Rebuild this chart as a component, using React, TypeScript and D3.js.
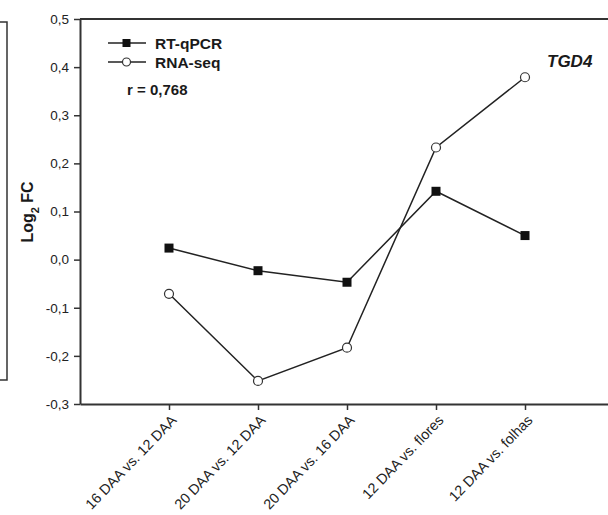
import React, { useRef, useEffect } from "react";
import * as d3 from "d3";

const categories = [
  "16 DAA vs. 12 DAA",
  "20 DAA vs. 12 DAA",
  "20 DAA vs. 16 DAA",
  "12 DAA vs. flores",
  "12 DAA vs. folhas",
];
const rtqpcr = [0.024, -0.023, -0.047, 0.142, 0.05];
const rnaseq = [-0.071, -0.252, -0.183, 0.233, 0.379];
const yTicks = [-0.3, -0.2, -0.1, 0.0, 0.1, 0.2, 0.3, 0.4, 0.5];

const App = () => {
  const svgRef = useRef<SVGSVGElement>(null);

  useEffect(() => {
    const svg = d3.select(svgRef.current);
    svg.selectAll("*").remove();
    const font = "'Liberation Sans', Arial, sans-serif";
    const ink = "#1a1a1a";

    const x = d3.scaleLinear().domain([0, categories.length + 1]).range([80, 614]);
    const y = d3.scaleLinear().domain([-0.3, 0.5]).range([404, 19]);
    const fmt = (v: number) => d3.format(".1f")(v).replace(".", ",").replace("−", "-");

    // partial frame of neighbouring panel
    svg.append("path")
      .attr("d", "M0,22 H7 V380 H0")
      .attr("fill", "none")
      .attr("stroke", "#333")
      .attr("stroke-width", 1.5);

    // top frame line
    svg.append("line")
      .attr("x1", 80).attr("x2", 610)
      .attr("y1", y(0.5)).attr("y2", y(0.5))
      .attr("stroke", "#333").attr("stroke-width", 2);

    // y axis
    const yAxis = svg.append("g")
      .attr("transform", "translate(80,0)")
      .call(d3.axisLeft(y).tickValues(yTicks).tickFormat((d) => fmt(+d)).tickSize(6).tickSizeOuter(0));
    yAxis.select(".domain").attr("stroke", "#333").attr("stroke-width", 2);
    yAxis.selectAll(".tick line").attr("stroke", "#333").attr("stroke-width", 1.5);
    yAxis.selectAll(".tick text")
      .attr("font-family", font).attr("font-size", 13.5).attr("fill", "#222").attr("x", -11);

    // x axis
    const xAxis = svg.append("g")
      .attr("transform", `translate(0,${y(-0.3)})`)
      .call(
        d3.axisBottom(x)
          .tickValues(categories.map((_, i) => i + 1))
          .tickFormat((d) => categories[+d - 1])
          .tickSize(6)
          .tickSizeOuter(0)
      );
    xAxis.select(".domain").attr("stroke", "#333").attr("stroke-width", 2);
    xAxis.selectAll(".tick line").attr("stroke", "#333").attr("stroke-width", 1.5);
    xAxis.selectAll(".tick text")
      .attr("font-family", font).attr("font-size", 14.3).attr("fill", "#222")
      .attr("text-anchor", "end")
      .attr("dy", 0)
      .attr("transform", "translate(8,17) rotate(-46)")
      .attr("x", 0).attr("y", 0);

    // y label
    const yl = svg.append("text")
      .attr("transform", "translate(33,212) rotate(-90)")
      .attr("text-anchor", "middle")
      .attr("font-family", font).attr("font-weight", "bold").attr("font-size", 16).attr("fill", ink);
    yl.append("tspan").text("Log");
    yl.append("tspan").attr("font-size", 11).attr("dy", 6).text("2");
    yl.append("tspan").attr("dy", -6).text(" FC");

    const line = d3.line<number>().x((_, i) => x(i + 1)).y((d) => y(d));

    svg.append("path").datum(rnaseq).attr("d", line)
      .attr("fill", "none").attr("stroke", "#222").attr("stroke-width", 1.5);
    svg.append("path").datum(rtqpcr).attr("d", line)
      .attr("fill", "none").attr("stroke", "#222").attr("stroke-width", 1.5);

    svg.selectAll(".sq").data(rtqpcr).enter().append("rect")
      .attr("x", (_, i) => x(i + 1) - 4.5).attr("y", (d) => y(d) - 4.5)
      .attr("width", 9).attr("height", 9).attr("fill", "#111");
    svg.selectAll(".ci").data(rnaseq).enter().append("circle")
      .attr("cx", (_, i) => x(i + 1)).attr("cy", (d) => y(d)).attr("r", 4.5)
      .attr("fill", "#fff").attr("stroke", "#333").attr("stroke-width", 1.2);

    // legend
    const lg = svg.append("g").attr("font-family", font).attr("font-weight", "bold").attr("font-size", 15.5).attr("fill", ink);
    lg.append("line").attr("x1", 108).attr("x2", 146).attr("y1", 43).attr("y2", 43).attr("stroke", "#222").attr("stroke-width", 1.5);
    lg.append("rect").attr("x", 122.5).attr("y", 39).attr("width", 8).attr("height", 8).attr("fill", "#111");
    lg.append("text").attr("x", 155).attr("y", 48.5).text("RT-qPCR");
    lg.append("line").attr("x1", 108).attr("x2", 146).attr("y1", 62).attr("y2", 62).attr("stroke", "#222").attr("stroke-width", 1.5);
    lg.append("circle").attr("cx", 126.5).attr("cy", 62).attr("r", 4).attr("fill", "#fff").attr("stroke", "#333").attr("stroke-width", 1.2);
    lg.append("text").attr("x", 155).attr("y", 67.5).text("RNA-seq");
    lg.append("text").attr("x", 127).attr("y", 95).attr("font-size", 15).text("r = 0,768");

    svg.append("text")
      .attr("x", 547).attr("y", 67)
      .attr("font-family", font).attr("font-weight", "bold").attr("font-style", "italic")
      .attr("font-size", 17).attr("fill", ink)
      .text("TGD4");
  }, []);

  return (
    <svg
      ref={svgRef}
      width={608}
      height={515}
      style={{ position: "absolute", left: 0, top: 0, background: "#fff" }}
    />
  );
};

export default App;
